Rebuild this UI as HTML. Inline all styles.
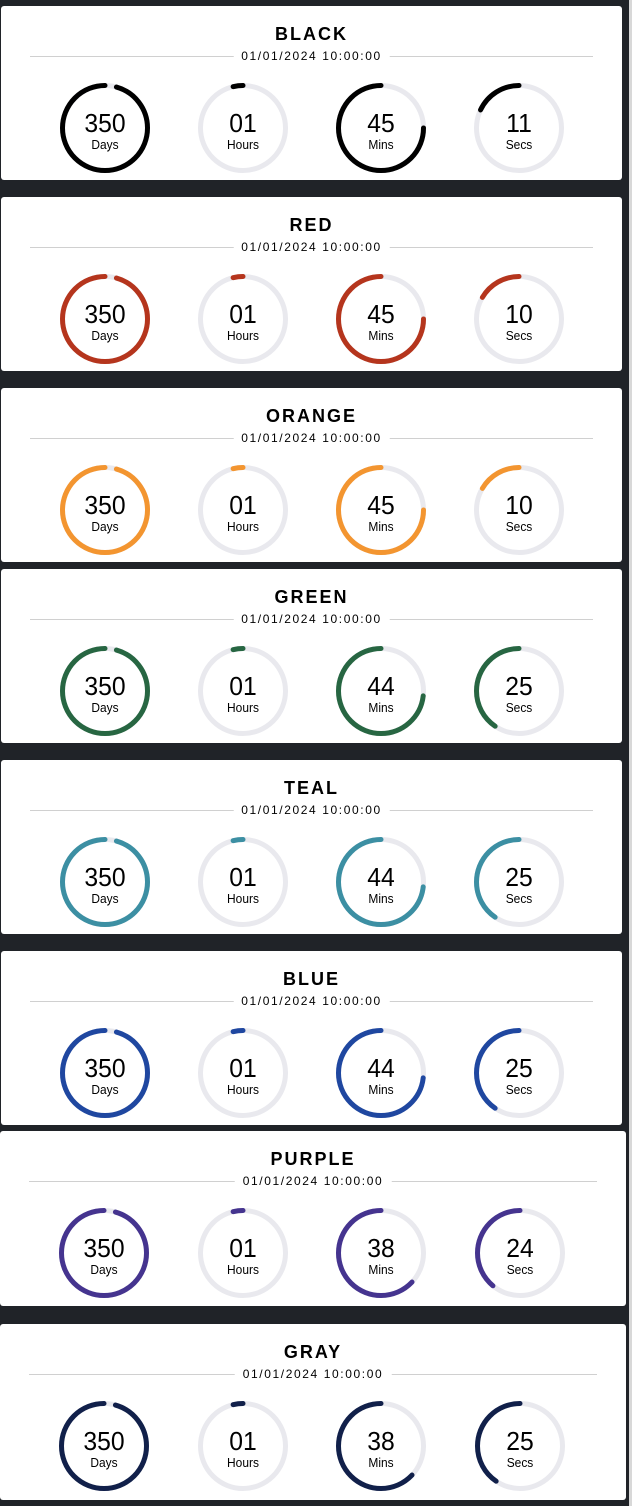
<!DOCTYPE html>
<html><head><meta charset="utf-8"><style>
html,body{margin:0;padding:0;}
body{width:632px;height:1506px;background:#202328;position:relative;overflow:hidden;font-family:"Liberation Sans",Arial,sans-serif;}
.sb{position:absolute;right:0;top:0;width:3px;height:1506px;background:#d8d8d8;}
.card{position:absolute;background:#fff;border-radius:3px;height:174px;}
.t{position:absolute;left:0;right:0;top:18px;text-align:center;font-weight:bold;font-size:18px;line-height:20px;letter-spacing:2px;color:#000;}
.d{position:absolute;left:29px;right:29px;top:43px;height:14px;}
.d:before{content:"";position:absolute;left:0;right:0;top:7px;border-top:1px solid #d0d0d0;}
.d span{position:absolute;left:50%;transform:translateX(-50%);top:0;background:#fff;padding:0 8px;font-size:12px;letter-spacing:1.6px;color:#000;line-height:14px;white-space:nowrap;}
.c{position:absolute;top:74px;width:96px;height:96px;}
.c svg{position:absolute;left:0;top:0;}
.n{position:absolute;left:0;right:0;top:29px;text-align:center;font-size:26px;line-height:28px;color:#000;transform:scaleX(0.95);}
.l{position:absolute;left:0;right:0;top:58px;text-align:center;font-size:13px;line-height:14px;color:#000;transform:scaleX(0.92);}
</style></head><body>
<div class="sb"></div>

<!-- BLACK -->
<div class="card" style="left:1px;width:621px;top:6px;">
<div class="t">BLACK</div><div class="d"><span>01/01/2024 10:00:00</span></div>
<div class="c" style="left:56px"><svg width="96" height="96"><circle cx="48" cy="48" r="42.5" fill="none" stroke="#e9e9ee" stroke-width="5"/><circle cx="48" cy="48" r="42.5" fill="none" stroke="#000" stroke-width="5" stroke-linecap="round" stroke-dasharray="255 400" transform="translate(96,0) scale(-1,1) rotate(-90 48 48)"/></svg><div class="n">350</div><div class="l">Days</div></div>
<div class="c" style="left:194px"><svg width="96" height="96"><circle cx="48" cy="48" r="42.5" fill="none" stroke="#e9e9ee" stroke-width="5"/><circle cx="48" cy="48" r="42.5" fill="none" stroke="#000" stroke-width="5" stroke-linecap="round" stroke-dasharray="10 400" transform="translate(96,0) scale(-1,1) rotate(-90 48 48)"/></svg><div class="n">01</div><div class="l">Hours</div></div>
<div class="c" style="left:332px"><svg width="96" height="96"><circle cx="48" cy="48" r="42.5" fill="none" stroke="#e9e9ee" stroke-width="5"/><circle cx="48" cy="48" r="42.5" fill="none" stroke="#000" stroke-width="5" stroke-linecap="round" stroke-dasharray="200 400" transform="translate(96,0) scale(-1,1) rotate(-90 48 48)"/></svg><div class="n">45</div><div class="l">Mins</div></div>
<div class="c" style="left:470px"><svg width="96" height="96"><circle cx="48" cy="48" r="42.5" fill="none" stroke="#e9e9ee" stroke-width="5"/><circle cx="48" cy="48" r="42.5" fill="none" stroke="#000" stroke-width="5" stroke-linecap="round" stroke-dasharray="48 400" transform="translate(96,0) scale(-1,1) rotate(-90 48 48)"/></svg><div class="n">11</div><div class="l">Secs</div></div>
</div>

<!-- RED -->
<div class="card" style="left:1px;width:621px;top:197px;">
<div class="t">RED</div><div class="d"><span>01/01/2024 10:00:00</span></div>
<div class="c" style="left:56px"><svg width="96" height="96"><circle cx="48" cy="48" r="42.5" fill="none" stroke="#e9e9ee" stroke-width="5"/><circle cx="48" cy="48" r="42.5" fill="none" stroke="#b5351d" stroke-width="5" stroke-linecap="round" stroke-dasharray="255 400" transform="translate(96,0) scale(-1,1) rotate(-90 48 48)"/></svg><div class="n">350</div><div class="l">Days</div></div>
<div class="c" style="left:194px"><svg width="96" height="96"><circle cx="48" cy="48" r="42.5" fill="none" stroke="#e9e9ee" stroke-width="5"/><circle cx="48" cy="48" r="42.5" fill="none" stroke="#b5351d" stroke-width="5" stroke-linecap="round" stroke-dasharray="10 400" transform="translate(96,0) scale(-1,1) rotate(-90 48 48)"/></svg><div class="n">01</div><div class="l">Hours</div></div>
<div class="c" style="left:332px"><svg width="96" height="96"><circle cx="48" cy="48" r="42.5" fill="none" stroke="#e9e9ee" stroke-width="5"/><circle cx="48" cy="48" r="42.5" fill="none" stroke="#b5351d" stroke-width="5" stroke-linecap="round" stroke-dasharray="200 400" transform="translate(96,0) scale(-1,1) rotate(-90 48 48)"/></svg><div class="n">45</div><div class="l">Mins</div></div>
<div class="c" style="left:470px"><svg width="96" height="96"><circle cx="48" cy="48" r="42.5" fill="none" stroke="#e9e9ee" stroke-width="5"/><circle cx="48" cy="48" r="42.5" fill="none" stroke="#b5351d" stroke-width="5" stroke-linecap="round" stroke-dasharray="44 400" transform="translate(96,0) scale(-1,1) rotate(-90 48 48)"/></svg><div class="n">10</div><div class="l">Secs</div></div>
</div>

<!-- ORANGE -->
<div class="card" style="left:1px;width:621px;top:388px;">
<div class="t">ORANGE</div><div class="d"><span>01/01/2024 10:00:00</span></div>
<div class="c" style="left:56px"><svg width="96" height="96"><circle cx="48" cy="48" r="42.5" fill="none" stroke="#e9e9ee" stroke-width="5"/><circle cx="48" cy="48" r="42.5" fill="none" stroke="#f39530" stroke-width="5" stroke-linecap="round" stroke-dasharray="255 400" transform="translate(96,0) scale(-1,1) rotate(-90 48 48)"/></svg><div class="n">350</div><div class="l">Days</div></div>
<div class="c" style="left:194px"><svg width="96" height="96"><circle cx="48" cy="48" r="42.5" fill="none" stroke="#e9e9ee" stroke-width="5"/><circle cx="48" cy="48" r="42.5" fill="none" stroke="#f39530" stroke-width="5" stroke-linecap="round" stroke-dasharray="10 400" transform="translate(96,0) scale(-1,1) rotate(-90 48 48)"/></svg><div class="n">01</div><div class="l">Hours</div></div>
<div class="c" style="left:332px"><svg width="96" height="96"><circle cx="48" cy="48" r="42.5" fill="none" stroke="#e9e9ee" stroke-width="5"/><circle cx="48" cy="48" r="42.5" fill="none" stroke="#f39530" stroke-width="5" stroke-linecap="round" stroke-dasharray="200 400" transform="translate(96,0) scale(-1,1) rotate(-90 48 48)"/></svg><div class="n">45</div><div class="l">Mins</div></div>
<div class="c" style="left:470px"><svg width="96" height="96"><circle cx="48" cy="48" r="42.5" fill="none" stroke="#e9e9ee" stroke-width="5"/><circle cx="48" cy="48" r="42.5" fill="none" stroke="#f39530" stroke-width="5" stroke-linecap="round" stroke-dasharray="44 400" transform="translate(96,0) scale(-1,1) rotate(-90 48 48)"/></svg><div class="n">10</div><div class="l">Secs</div></div>
</div>

<!-- GREEN -->
<div class="card" style="left:1px;width:621px;top:569px;">
<div class="t">GREEN</div><div class="d"><span>01/01/2024 10:00:00</span></div>
<div class="c" style="left:56px"><svg width="96" height="96"><circle cx="48" cy="48" r="42.5" fill="none" stroke="#e9e9ee" stroke-width="5"/><circle cx="48" cy="48" r="42.5" fill="none" stroke="#276642" stroke-width="5" stroke-linecap="round" stroke-dasharray="255 400" transform="translate(96,0) scale(-1,1) rotate(-90 48 48)"/></svg><div class="n">350</div><div class="l">Days</div></div>
<div class="c" style="left:194px"><svg width="96" height="96"><circle cx="48" cy="48" r="42.5" fill="none" stroke="#e9e9ee" stroke-width="5"/><circle cx="48" cy="48" r="42.5" fill="none" stroke="#276642" stroke-width="5" stroke-linecap="round" stroke-dasharray="10 400" transform="translate(96,0) scale(-1,1) rotate(-90 48 48)"/></svg><div class="n">01</div><div class="l">Hours</div></div>
<div class="c" style="left:332px"><svg width="96" height="96"><circle cx="48" cy="48" r="42.5" fill="none" stroke="#e9e9ee" stroke-width="5"/><circle cx="48" cy="48" r="42.5" fill="none" stroke="#276642" stroke-width="5" stroke-linecap="round" stroke-dasharray="195 400" transform="translate(96,0) scale(-1,1) rotate(-90 48 48)"/></svg><div class="n">44</div><div class="l">Mins</div></div>
<div class="c" style="left:470px"><svg width="96" height="96"><circle cx="48" cy="48" r="42.5" fill="none" stroke="#e9e9ee" stroke-width="5"/><circle cx="48" cy="48" r="42.5" fill="none" stroke="#276642" stroke-width="5" stroke-linecap="round" stroke-dasharray="108 400" transform="translate(96,0) scale(-1,1) rotate(-90 48 48)"/></svg><div class="n">25</div><div class="l">Secs</div></div>
</div>

<!-- TEAL -->
<div class="card" style="left:1px;width:621px;top:760px;">
<div class="t">TEAL</div><div class="d"><span>01/01/2024 10:00:00</span></div>
<div class="c" style="left:56px"><svg width="96" height="96"><circle cx="48" cy="48" r="42.5" fill="none" stroke="#e9e9ee" stroke-width="5"/><circle cx="48" cy="48" r="42.5" fill="none" stroke="#3c8fa3" stroke-width="5" stroke-linecap="round" stroke-dasharray="255 400" transform="translate(96,0) scale(-1,1) rotate(-90 48 48)"/></svg><div class="n">350</div><div class="l">Days</div></div>
<div class="c" style="left:194px"><svg width="96" height="96"><circle cx="48" cy="48" r="42.5" fill="none" stroke="#e9e9ee" stroke-width="5"/><circle cx="48" cy="48" r="42.5" fill="none" stroke="#3c8fa3" stroke-width="5" stroke-linecap="round" stroke-dasharray="10 400" transform="translate(96,0) scale(-1,1) rotate(-90 48 48)"/></svg><div class="n">01</div><div class="l">Hours</div></div>
<div class="c" style="left:332px"><svg width="96" height="96"><circle cx="48" cy="48" r="42.5" fill="none" stroke="#e9e9ee" stroke-width="5"/><circle cx="48" cy="48" r="42.5" fill="none" stroke="#3c8fa3" stroke-width="5" stroke-linecap="round" stroke-dasharray="195 400" transform="translate(96,0) scale(-1,1) rotate(-90 48 48)"/></svg><div class="n">44</div><div class="l">Mins</div></div>
<div class="c" style="left:470px"><svg width="96" height="96"><circle cx="48" cy="48" r="42.5" fill="none" stroke="#e9e9ee" stroke-width="5"/><circle cx="48" cy="48" r="42.5" fill="none" stroke="#3c8fa3" stroke-width="5" stroke-linecap="round" stroke-dasharray="108 400" transform="translate(96,0) scale(-1,1) rotate(-90 48 48)"/></svg><div class="n">25</div><div class="l">Secs</div></div>
</div>

<!-- BLUE -->
<div class="card" style="left:1px;width:621px;top:951px;">
<div class="t">BLUE</div><div class="d"><span>01/01/2024 10:00:00</span></div>
<div class="c" style="left:56px"><svg width="96" height="96"><circle cx="48" cy="48" r="42.5" fill="none" stroke="#e9e9ee" stroke-width="5"/><circle cx="48" cy="48" r="42.5" fill="none" stroke="#1f47a0" stroke-width="5" stroke-linecap="round" stroke-dasharray="255 400" transform="translate(96,0) scale(-1,1) rotate(-90 48 48)"/></svg><div class="n">350</div><div class="l">Days</div></div>
<div class="c" style="left:194px"><svg width="96" height="96"><circle cx="48" cy="48" r="42.5" fill="none" stroke="#e9e9ee" stroke-width="5"/><circle cx="48" cy="48" r="42.5" fill="none" stroke="#1f47a0" stroke-width="5" stroke-linecap="round" stroke-dasharray="10 400" transform="translate(96,0) scale(-1,1) rotate(-90 48 48)"/></svg><div class="n">01</div><div class="l">Hours</div></div>
<div class="c" style="left:332px"><svg width="96" height="96"><circle cx="48" cy="48" r="42.5" fill="none" stroke="#e9e9ee" stroke-width="5"/><circle cx="48" cy="48" r="42.5" fill="none" stroke="#1f47a0" stroke-width="5" stroke-linecap="round" stroke-dasharray="195 400" transform="translate(96,0) scale(-1,1) rotate(-90 48 48)"/></svg><div class="n">44</div><div class="l">Mins</div></div>
<div class="c" style="left:470px"><svg width="96" height="96"><circle cx="48" cy="48" r="42.5" fill="none" stroke="#e9e9ee" stroke-width="5"/><circle cx="48" cy="48" r="42.5" fill="none" stroke="#1f47a0" stroke-width="5" stroke-linecap="round" stroke-dasharray="108 400" transform="translate(96,0) scale(-1,1) rotate(-90 48 48)"/></svg><div class="n">25</div><div class="l">Secs</div></div>
</div>

<!-- PURPLE -->
<div class="card" style="left:0px;width:626px;top:1131px;height:175px;">
<div class="t">PURPLE</div><div class="d"><span>01/01/2024 10:00:00</span></div>
<div class="c" style="left:56px"><svg width="96" height="96"><circle cx="48" cy="48" r="42.5" fill="none" stroke="#e9e9ee" stroke-width="5"/><circle cx="48" cy="48" r="42.5" fill="none" stroke="#45348f" stroke-width="5" stroke-linecap="round" stroke-dasharray="255 400" transform="translate(96,0) scale(-1,1) rotate(-90 48 48)"/></svg><div class="n">350</div><div class="l">Days</div></div>
<div class="c" style="left:195px"><svg width="96" height="96"><circle cx="48" cy="48" r="42.5" fill="none" stroke="#e9e9ee" stroke-width="5"/><circle cx="48" cy="48" r="42.5" fill="none" stroke="#45348f" stroke-width="5" stroke-linecap="round" stroke-dasharray="10 400" transform="translate(96,0) scale(-1,1) rotate(-90 48 48)"/></svg><div class="n">01</div><div class="l">Hours</div></div>
<div class="c" style="left:333px"><svg width="96" height="96"><circle cx="48" cy="48" r="42.5" fill="none" stroke="#e9e9ee" stroke-width="5"/><circle cx="48" cy="48" r="42.5" fill="none" stroke="#45348f" stroke-width="5" stroke-linecap="round" stroke-dasharray="168 400" transform="translate(96,0) scale(-1,1) rotate(-90 48 48)"/></svg><div class="n">38</div><div class="l">Mins</div></div>
<div class="c" style="left:472px"><svg width="96" height="96"><circle cx="48" cy="48" r="42.5" fill="none" stroke="#e9e9ee" stroke-width="5"/><circle cx="48" cy="48" r="42.5" fill="none" stroke="#45348f" stroke-width="5" stroke-linecap="round" stroke-dasharray="104 400" transform="translate(96,0) scale(-1,1) rotate(-90 48 48)"/></svg><div class="n">24</div><div class="l">Secs</div></div>
</div>

<!-- GRAY -->
<div class="card" style="left:0px;width:626px;top:1324px;height:176px;">
<div class="t">GRAY</div><div class="d"><span>01/01/2024 10:00:00</span></div>
<div class="c" style="left:56px"><svg width="96" height="96"><circle cx="48" cy="48" r="42.5" fill="none" stroke="#e9e9ee" stroke-width="5"/><circle cx="48" cy="48" r="42.5" fill="none" stroke="#11204a" stroke-width="5" stroke-linecap="round" stroke-dasharray="255 400" transform="translate(96,0) scale(-1,1) rotate(-90 48 48)"/></svg><div class="n">350</div><div class="l">Days</div></div>
<div class="c" style="left:195px"><svg width="96" height="96"><circle cx="48" cy="48" r="42.5" fill="none" stroke="#e9e9ee" stroke-width="5"/><circle cx="48" cy="48" r="42.5" fill="none" stroke="#11204a" stroke-width="5" stroke-linecap="round" stroke-dasharray="10 400" transform="translate(96,0) scale(-1,1) rotate(-90 48 48)"/></svg><div class="n">01</div><div class="l">Hours</div></div>
<div class="c" style="left:333px"><svg width="96" height="96"><circle cx="48" cy="48" r="42.5" fill="none" stroke="#e9e9ee" stroke-width="5"/><circle cx="48" cy="48" r="42.5" fill="none" stroke="#11204a" stroke-width="5" stroke-linecap="round" stroke-dasharray="168 400" transform="translate(96,0) scale(-1,1) rotate(-90 48 48)"/></svg><div class="n">38</div><div class="l">Mins</div></div>
<div class="c" style="left:472px"><svg width="96" height="96"><circle cx="48" cy="48" r="42.5" fill="none" stroke="#e9e9ee" stroke-width="5"/><circle cx="48" cy="48" r="42.5" fill="none" stroke="#11204a" stroke-width="5" stroke-linecap="round" stroke-dasharray="108 400" transform="translate(96,0) scale(-1,1) rotate(-90 48 48)"/></svg><div class="n">25</div><div class="l">Secs</div></div>
</div>

</body></html>
